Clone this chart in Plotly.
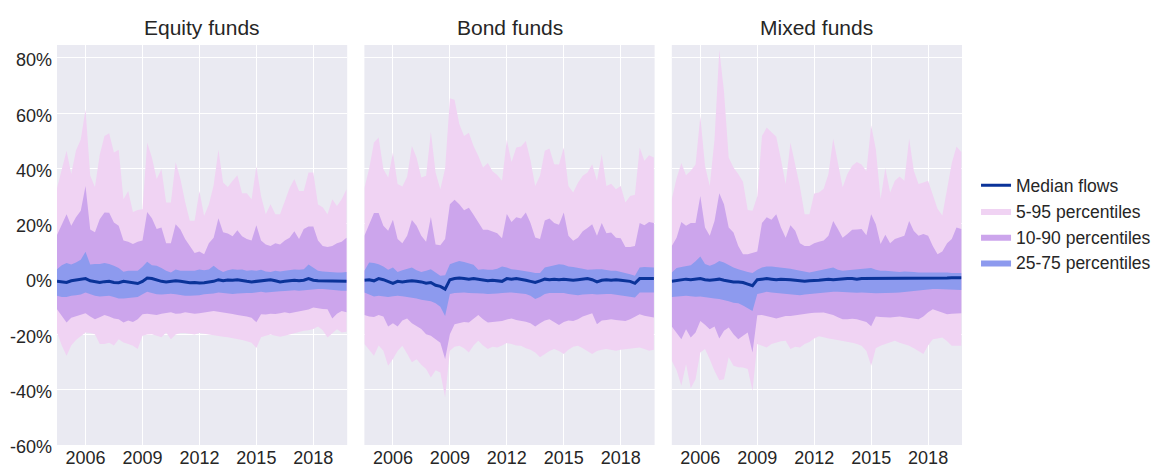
import pandas as pd
import plotly.graph_objects as go
from plotly.subplots import make_subplots

dates = pd.date_range("2004-07-01", periods=62, freq="QS")
panels = ["Equity funds", "Bond funds", "Mixed funds"]
x_ticks = ["2006-01-01", "2009-01-01", "2012-01-01", "2015-01-01", "2018-01-01"]
x_labels = ["2006", "2009", "2012", "2015", "2018"]
y_ticks = [-60, -40, -20, 0, 20, 40, 60, 80]
y_labels = ["-60%", "-40%", "-20%", "0%", "20%", "40%", "60%", "80%"]

eq_p95 = [33, 40, 46.4, 38, 46.5, 50.5, 61.5, 37.5, 33.3, 45, 51.8, 52.8, 45.8, 46.8, 28.9, 31.9,
          24.3, 25, 25.3, 49.4, 44, 36.2, 39.8, 27.7, 27.7, 42.4, 36.2, 28, 21.1, 21.1, 31.9, 22.9,
          27, 34, 46.8, 35, 33.3, 35.6, 37.6, 31.1, 31.1, 28.9, 40.8, 30.1, 23.5, 27.1, 23.5, 23.5,
          28, 33, 36.2, 31.9, 31.9, 38.6, 38.6, 27, 26, 23.5, 28.9, 26.5, 28.9, 32.5]
eq_p90 = [16, 20, 23.5, 19.3, 22.4, 24.7, 33.7, 18, 17, 21.7, 24.1, 24, 20.5, 19.3, 14, 13.5,
          12.7, 13.5, 14, 24.3, 22, 18.1, 18.7, 13, 13, 19.9, 18, 14.5, 12, 9.5, 10, 9,
          13, 15, 22, 17, 16.5, 15.5, 17.7, 15.5, 14.5, 14, 19.5, 14, 12.5, 12, 13, 12.5,
          14, 15, 17.3, 14.5, 18.1, 19, 19, 14, 12, 11.6, 12, 13, 13.5, 15]
eq_p75 = [3.6, 5.0, 5.8, 5.3, 6.0, 7.0, 9.9, 5.3, 5.5, 5.5, 5.8, 5.5, 4.8, 4.0, 2.7, 3.0,
          3.0, 3.0, 4.5, 6.3, 5.0, 4.8, 4.0, 3.0, 2.4, 3.5, 3.0, 3.0, 2.8, 3.0, 3.5, 3.2,
          3.5, 4.8, 3.5, 2.6, 3.2, 3.6, 3.4, 3.5, 3.0, 3.2, 3.0, 3.4, 2.8, 2.6, 3.0, 2.8,
          3.0, 3.2, 3.5, 3.4, 3.6, 5.3, 4.0, 3.0, 2.8, 2.6, 2.6, 2.4, 2.4, 2.6]
eq_med = [-0.8, -1.0, -1.2, -0.6, -0.3, 0.0, 0.2, -0.6, -0.8, -1.2, -0.9, -0.8, -1.2, -1.3, -0.8, -1.0,
          -1.4, -1.6, -0.8, 0.4, 0.2, -0.4, -0.8, -1.0, -0.8, -0.6, -0.8, -1.0, -1.3, -1.2, -1.4, -1.3,
          -1.0, -0.8, -0.2, -0.6, -0.3, -0.4, -0.2, -0.6, -0.8, -1.0, -0.8, -0.6, -0.4, -0.2, -0.6, -1.0,
          -0.8, -0.6, -0.4, -0.6, -0.4, 0.2, -0.4, -0.6, -0.6, -0.8, -0.6, -0.8, -0.8, -0.8]
eq_p25 = [-6.0, -6.5, -6.5, -6.0, -5.8, -5.6, -4.8, -5.5, -6.0, -6.3, -6.2, -6.0, -6.5, -7.0, -7.0, -6.8,
          -6.5, -6.5, -5.5, -4.6, -5.0, -5.5, -5.6, -5.4, -5.3, -5.5, -5.8, -6.0, -6.0, -6.0, -5.8, -5.5,
          -5.4, -5.2, -4.8, -5.0, -5.2, -5.4, -5.2, -5.0, -5.0, -5.0, -4.8, -4.6, -4.8, -4.6, -4.4, -4.4,
          -4.3, -4.2, -4.0, -4.2, -4.0, -3.8, -3.8, -3.6, -3.6, -3.8, -4.0, -4.2, -4.2, -4.2]
eq_p10 = [-10.9, -13.5, -15.7, -14.0, -13.5, -13.0, -12.3, -13.5, -14.5, -13.8, -13.0, -13.5, -14.2, -14.5, -15.7, -15.0,
          -15.5, -14.5, -12.7, -12.5, -12.7, -13.0, -12.5, -12.2, -12.0, -12.5, -12.4, -12.0, -12.3, -12.5, -12.3, -12.0,
          -11.8, -11.5, -11.8, -12.0, -12.3, -12.6, -13.0, -13.2, -13.5, -14.0, -15.6, -12.7, -12.8, -12.5, -12.6, -12.3,
          -12.0, -12.3, -12.0, -11.8, -11.5, -11.0, -10.3, -10.6, -10.8, -10.9, -14.2, -12.5, -11.5, -12.0]
eq_p5 = [-19.3, -24.0, -27.7, -24.0, -22.0, -20.5, -19.3, -19.5, -19.9, -23.5, -23.5, -23.0, -24.0, -21.7, -22.9, -23.5,
         -24.1, -25.3, -20.5, -20.0, -19.9, -20.5, -21.0, -19.3, -21.7, -20.0, -19.5, -19.5, -19.8, -20.0, -19.5, -19.8,
         -19.9, -20.2, -20.5, -20.8, -21.0, -21.3, -21.7, -22.0, -22.5, -23.0, -24.9, -21.0, -20.5, -20.0, -20.5, -20.8,
         -20.5, -20.0, -19.5, -19.0, -18.7, -18.5, -18.0, -17.1, -18.5, -21.1, -19.5, -18.1, -19.3, -19.0]

bd_p95 = [33, 40, 49.4, 51.2, 39.8, 36.8, 45.8, 34.4, 33.5, 37, 48.2, 44, 36.8, 37.4, 53.3, 38.6,
          32.5, 40, 65.4, 64.9, 56.1, 51.8, 53, 48.2, 44.6, 40.4, 42, 39, 37.7, 35.6, 50.4, 42.4,
          47.6, 48, 50, 43, 33.7, 37.4, 46.4, 47.3, 41.6, 41.5, 47.6, 33.7, 31.3, 34.9, 37.4, 38.6,
          41.6, 35.6, 45.2, 33.7, 34.5, 32.5, 33.7, 27.7, 30.1, 30.5, 47.6, 42.8, 44.8, 44]
bd_p90 = [15.7, 20, 23.9, 23.9, 19.3, 17.5, 21.5, 14.5, 13, 15.7, 21.4, 19.3, 15.7, 13.5, 22.5, 12.5,
          12.3, 14.5, 27.1, 28.7, 27.1, 24.9, 25.8, 23.3, 20.6, 17.9, 17.9, 17.3, 16.6, 14.8, 23.6, 20.7,
          22.4, 21.9, 24.1, 20.3, 15.1, 14.5, 21.2, 21.9, 20.3, 19.7, 24.1, 15.7, 13.9, 15, 17.3, 18.5,
          19.9, 15.7, 20.3, 16.6, 16.9, 15, 14.8, 11.6, 11.6, 12, 20.3, 19.5, 20.7, 20.3]
bd_p75 = [3.0, 6.0, 5.8, 5.4, 4.6, 3.4, 4.2, 2.6, 3.2, 3.8, 4.2, 3.2, 2.6, 3.0, 3.6, 2.4,
          1.2, 1.4, 5.4, 6.0, 6.6, 6.2, 5.8, 5.2, 3.4, 3.6, 3.4, 3.4, 3.8, 4.6, 4.2, 3.6,
          3.4, 3.2, 3.0, 2.6, 2.2, 2.2, 4.2, 4.6, 5.0, 5.4, 5.2, 4.6, 4.4, 4.2, 3.8, 3.4,
          3.6, 3.6, 3.6, 3.2, 3.0, 3.0, 2.6, 2.4, 1.8, 1.2, 4.2, 4.4, 4.2, 4.2]
bd_med = [-0.4, -0.2, -0.6, 0.2, -0.2, -0.8, -1.5, -0.8, -1.0, -0.8, -0.6, -0.8, -1.0, -1.5, -1.2, -2.2,
          -2.6, -3.6, -0.2, 0.2, 0.4, 0.2, 0.0, 0.2, 0.0, -0.4, -0.6, -0.4, -0.6, -0.8, 0.2, 0.0,
          0.2, 0.0, -0.4, -0.8, -1.2, -0.6, 0.0, -0.2, 0.0, -0.2, 0.0, -0.2, -0.4, -0.2, 0.0, 0.2,
          -0.2, -1.0, -0.4, -0.2, -0.4, -0.2, -0.4, -0.6, -0.8, -1.5, 0.2, 0.2, 0.2, 0.2]
bd_p25 = [-4.8, -5.6, -6.3, -6.0, -6.2, -6.5, -6.2, -6.0, -6.2, -6.5, -6.6, -7.0, -7.5, -7.8, -8.0, -8.7,
          -10.0, -13.3, -5.4, -5.0, -4.8, -4.8, -5.0, -5.0, -5.1, -5.2, -5.4, -5.4, -5.2, -5.0, -4.8, -4.8,
          -5.0, -5.2, -5.4, -6.0, -7.2, -6.5, -5.4, -5.0, -5.0, -4.8, -5.0, -5.4, -5.6, -5.8, -5.6, -5.4,
          -5.4, -5.6, -5.4, -5.4, -5.4, -5.6, -6.0, -6.2, -6.4, -6.6, -4.8, -4.8, -4.8, -4.8]
bd_p10 = [-13.0, -13.5, -13.7, -13.0, -13.5, -17.1, -16.0, -17.1, -15.0, -14.2, -16.0, -17.1, -18.0, -19.9, -20.5, -21.7,
          -23.0, -28.9, -19.9, -16.3, -16.0, -15.5, -15.7, -14.5, -13.0, -14.5, -15.7, -15.5, -15.3, -15.1, -14.6, -14.2,
          -14.8, -15.0, -15.4, -16.0, -17.1, -16.0, -15.0, -14.5, -15.5, -16.6, -15.5, -15.0, -15.1, -14.5, -13.5, -13.0,
          -12.3, -16.3, -15.0, -14.8, -14.5, -14.8, -15.0, -15.1, -14.5, -13.5, -12.7, -13.2, -13.5, -13.9]
bd_p5 = [-23.5, -25.5, -27.7, -24.0, -25.9, -31.3, -28.9, -26.0, -24.1, -27.0, -30.1, -29.0, -31.0, -32.5, -35.6, -33.0,
         -33.8, -42.8, -25.9, -24.5, -24.1, -25.0, -26.5, -24.0, -22.3, -24.0, -25.3, -24.5, -24.7, -24.0, -23.1, -23.5,
         -24.0, -24.1, -25.0, -25.5, -26.5, -28.3, -27.0, -26.0, -25.3, -26.0, -27.1, -25.5, -24.5, -24.1, -25.0, -26.0,
         -27.1, -26.0, -25.5, -25.3, -25.5, -25.9, -25.5, -25.3, -25.0, -24.8, -24.7, -25.3, -25.9, -25.5]

mx_p95 = [29, 36.5, 42, 37.6, 39.2, 41.5, 59, 41, 33.7, 50.6, 83, 68, 44, 40.4, 38, 35.2,
          25, 24.7, 30, 51.8, 54.9, 53, 51.5, 43.4, 34.4, 49.4, 41.6, 33.5, 23.5, 23.5, 31, 31.3,
          32.7, 38, 50.9, 41.6, 33.2, 38, 41, 42.4, 41.5, 39, 55.7, 47, 29, 40.2, 31.3, 35.6,
          37.1, 35.6, 50.9, 39.2, 34.4, 35, 35.6, 30.5, 25.5, 23, 33, 42, 48, 46]
mx_p90 = [12, 15, 20.7, 19.3, 20.3, 20.3, 30.1, 18.7, 15.7, 21, 31.1, 27.1, 18.7, 16.9, 12, 9,
          9, 9.5, 10, 20.3, 22.4, 21.5, 23.5, 18.7, 15, 19.5, 17.5, 13, 12, 12, 13, 13.5,
          14, 15.7, 21, 18.1, 15, 16.3, 17.9, 18, 18.1, 15.9, 23.5, 19.9, 12.7, 16.1, 13, 14.5,
          15, 15.7, 21, 17.4, 15.7, 16.3, 15.7, 12, 9, 10, 13, 14.5, 18.7, 18.1]
mx_p75 = [2.4, 4.0, 4.4, 4.6, 5.0, 6.5, 8.2, 5.5, 4.8, 5.5, 6.6, 6.0, 5.0, 4.2, 3.6, 3.0,
          2.6, 2.2, 3.4, 4.2, 4.6, 4.6, 4.4, 4.2, 4.2, 3.8, 3.4, 3.0, 2.6, 2.4, 2.8, 3.2,
          3.6, 3.9, 4.2, 3.4, 3.0, 3.2, 3.4, 3.6, 3.8, 3.9, 4.0, 3.4, 3.0, 3.0, 2.8, 2.8,
          2.6, 2.8, 2.8, 2.6, 2.4, 2.4, 2.6, 2.6, 2.6, 2.4, 2.4, 2.2, 2.2, 2.2]
mx_med = [-0.8, -0.6, -0.4, 0.0, -0.2, 0.0, 0.2, -0.2, -0.4, -0.2, 0.0, -0.4, -0.8, -1.0, -1.0, -1.2,
          -1.8, -2.4, -0.2, 0.0, 0.2, 0.0, -0.2, 0.0, 0.0, -0.2, -0.4, -0.6, -0.8, -0.6, -0.6, -0.4,
          -0.2, 0.0, -0.2, 0.0, 0.2, 0.2, 0.2, 0.0, 0.2, 0.2, 0.2, 0.4, 0.2, 0.4, 0.4, 0.2,
          0.4, 0.4, 0.4, 0.4, 0.4, 0.4, 0.4, 0.4, 0.4, 0.4, 0.4, 0.5, 0.5, 0.5]
mx_p25 = [-6.5, -6.4, -6.2, -6.0, -6.2, -6.4, -6.3, -6.6, -6.8, -7.0, -7.2, -7.5, -8.0, -8.5, -8.7, -9.5,
          -10.5, -11.5, -5.4, -5.0, -4.6, -4.8, -5.0, -5.2, -5.4, -5.6, -5.8, -5.8, -5.6, -5.4, -5.2, -5.1,
          -5.0, -4.8, -4.6, -4.6, -4.7, -4.8, -4.8, -4.9, -4.8, -4.8, -5.0, -5.1, -5.1, -5.1, -5.0, -4.9,
          -4.8, -4.6, -4.5, -4.3, -4.2, -4.0, -3.8, -3.6, -3.6, -3.7, -3.8, -3.9, -3.9, -3.9]
mx_p10 = [-17.1, -19.5, -21.7, -18.1, -21.1, -19.3, -15.1, -16.5, -18.1, -17.1, -21.5, -18.7, -17.5, -19.9, -21.7, -20.5,
          -19.3, -26.5, -13.1, -13.0, -13.3, -13.8, -14.2, -13.8, -13.3, -13.3, -13.0, -12.7, -12.5, -12.3, -12.2, -12.1,
          -12.1, -12.5, -13.0, -13.8, -14.5, -14.5, -14.3, -14.5, -15.0, -15.5, -17.0, -13.5, -13.7, -13.9, -13.9, -13.7,
          -13.5, -13.8, -14.0, -14.2, -14.5, -13.5, -12.0, -10.9, -11.5, -12.0, -12.7, -12.5, -12.3, -12.3]
mx_p5 = [-29.5, -33.0, -38.6, -30.7, -39.5, -36.2, -26.5, -25.3, -29.0, -33.2, -36.6, -36.2, -28.3, -31.3, -31.9, -32.0,
         -32.5, -40.4, -23.5, -24.0, -24.7, -23.5, -22.9, -22.5, -22.3, -25.3, -24.5, -24.7, -23.5, -22.7, -21.5, -20.7,
         -21.0, -21.5, -21.7, -22.0, -22.5, -22.7, -23.0, -23.5, -24.1, -26.0, -31.3, -25.0, -24.1, -23.5, -23.0, -22.3,
         -23.0, -23.5, -24.1, -25.0, -26.0, -27.1, -24.0, -21.7, -21.5, -21.1, -22.5, -24.1, -24.1, -24.1]

series = [
    (eq_p5, eq_p95, eq_p10, eq_p90, eq_p25, eq_p75, eq_med),
    (bd_p5, bd_p95, bd_p10, bd_p90, bd_p25, bd_p75, bd_med),
    (mx_p5, mx_p95, mx_p10, mx_p90, mx_p25, mx_p75, mx_med),
]

C_PINK = "#F0D3F3"
C_PURPLE = "#CCA5EC"
C_BLUE = "#8D9AEE"
C_MED = "#0A3399"
FONT = "Liberation Sans, Arial, Helvetica, sans-serif"
TXT = "#262626"

fig = make_subplots(rows=1, cols=3, shared_yaxes=True, horizontal_spacing=0.019,
                    subplot_titles=panels)

bands = [("5-95 percentiles", C_PINK, 0, 1, 2),
         ("10-90 percentiles", C_PURPLE, 2, 3, 3),
         ("25-75 percentiles", C_BLUE, 4, 5, 4)]

for c, s in enumerate(series, start=1):
    for name, col, lo, hi, rank in bands:
        fig.add_trace(go.Scatter(x=dates, y=s[lo], mode="lines", line=dict(width=0, color=col),
                                 showlegend=False, hoverinfo="skip"), row=1, col=c)
        fig.add_trace(go.Scatter(x=dates, y=s[hi], mode="lines", line=dict(width=0, color=col),
                                 fill="tonexty", fillcolor=col, name=name, legendgroup=name,
                                 showlegend=(c == 1), legendrank=rank), row=1, col=c)
    fig.add_trace(go.Scatter(x=dates, y=s[6], mode="lines", line=dict(width=3, color=C_MED),
                             name="Median flows", legendgroup="med", showlegend=(c == 1),
                             legendrank=1), row=1, col=c)

for c in range(1, 4):
    fig.update_xaxes(row=1, col=c, range=["2004-07-01", "2019-10-15"], type="date",
                     tickmode="array", tickvals=x_ticks, ticktext=x_labels,
                     showgrid=True, gridcolor="white", gridwidth=1.3, showline=False,
                     zeroline=False, ticks="", automargin=False,
                     tickfont=dict(size=18, color=TXT, family=FONT))
    fig.update_yaxes(row=1, col=c, range=[-60, 84.7], tickmode="array",
                     tickvals=y_ticks, ticktext=y_labels, ticklabelshift=2,
                     ticklabelstandoff=4,
                     showgrid=True, gridcolor="white", gridwidth=1.3,
                     zeroline=True, zerolinecolor="white", zerolinewidth=1.3, showline=False,
                     ticks="", automargin=False,
                     tickfont=dict(size=18, color=TXT, family=FONT))

for ann in fig.layout.annotations:
    ann.font = dict(size=21, color=TXT, family=FONT)
    ann.yshift = 4

# the page body adds an 8 px offset, so the figure is 8 px smaller and margins shifted
fig.update_layout(
    width=1151, height=458,
    margin=dict(l=49, r=197, t=37, b=21, autoexpand=False),
    paper_bgcolor="white", plot_bgcolor="#EAEAF2",
    font=dict(family=FONT, color=TXT, size=18),
    legend=dict(x=1.0155, y=0.553, xanchor="left", yanchor="middle",
                font=dict(size=17.5, color=TXT, family=FONT),
                bgcolor="rgba(0,0,0,0)", tracegroupgap=0, itemwidth=30),
    showlegend=True,
)

fig.write_html("out.html")
